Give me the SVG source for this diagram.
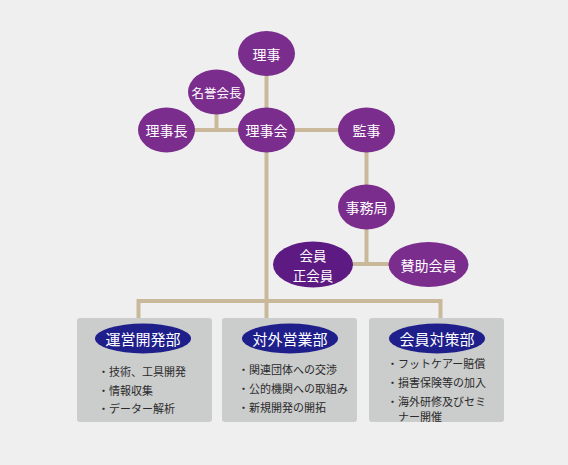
<svg xmlns="http://www.w3.org/2000/svg" width="568" height="465" viewBox="0 0 568 465">
<style>
.ln{stroke:#c9b99a;stroke-width:4;fill:none}
.nd{fill:#7b2d8d}
.nd2{fill:#5c1a82}
.hd{fill:#1f1f8c}
.box{fill:#cbcccc}
text{font-family:"Noto Sans CJK JP","Noto Sans CJK SC",sans-serif}
.t{fill:#ffffff;font-size:14px;text-anchor:middle;dominant-baseline:central}
.th{fill:#ffffff;font-size:15px;text-anchor:middle;dominant-baseline:central}
.li{fill:#2a2a2a;font-size:11px;dominant-baseline:central}
</style>
<rect width="568" height="465" fill="#efefef"/>
<g id="connectors">
<line class="ln" x1="266.5" y1="60" x2="266.5" y2="130"/>
<line class="ln" x1="166" y1="130" x2="366" y2="130"/>
<line class="ln" x1="216.5" y1="100" x2="216.5" y2="130"/>
<line class="ln" x1="366.5" y1="130" x2="366.5" y2="264"/>
<line class="ln" x1="312" y1="264" x2="428" y2="264"/>
<line class="ln" x1="266.5" y1="130" x2="266.5" y2="301"/>
<polyline class="ln" points="138.5,318 138.5,301 440.5,301 440.5,318"/>
<line class="ln" x1="266.5" y1="301" x2="266.5" y2="318"/>
</g>
<g id="riji"><ellipse class="nd" cx="266.5" cy="53.5" rx="28.5" ry="22.5"/><text class="t" x="266.5" y="53.5">理事</text></g>
<g id="meiyo"><ellipse class="nd" cx="216.5" cy="92" rx="28.5" ry="22.5"/><text class="t" x="216.5" y="92" style="font-size:12.5px">名誉会長</text></g>
<g id="rijicho"><ellipse class="nd" cx="166.5" cy="130" rx="28.5" ry="22.5"/><text class="t" x="166.5" y="130">理事長</text></g>
<g id="rijikai"><ellipse class="nd" cx="266.5" cy="130" rx="28.5" ry="22.5"/><text class="t" x="266.5" y="130">理事会</text></g>
<g id="kanji"><ellipse class="nd" cx="366.5" cy="130" rx="28.5" ry="22.5"/><text class="t" x="366.5" y="130">監事</text></g>
<g id="jimukyoku"><ellipse class="nd" cx="366.5" cy="207" rx="28.5" ry="22.5"/><text class="t" x="366.5" y="207">事務局</text></g>
<g id="kaiin"><ellipse class="nd2" cx="313" cy="264.5" rx="40" ry="23"/><text class="t" x="313" y="254.5" style="font-size:13.5px">会員</text><text class="t" x="313" y="274.5" style="font-size:13.5px">正会員</text></g>
<g id="sanjo"><ellipse class="nd" cx="428.5" cy="264.5" rx="40" ry="22.5"/><text class="t" x="428.5" y="264.5">賛助会員</text></g>
<g id="unei">
<rect class="box" x="77" y="318" width="135" height="104" rx="3"/>
<ellipse class="hd" cx="143" cy="338.5" rx="48" ry="15"/>
<text class="th" x="143" y="338.5">運営開発部</text>
<text class="li" x="98" y="371">・技術、工具開発</text>
<text class="li" x="98" y="390">・情報収集</text>
<text class="li" x="98" y="408">・データー解析</text>
</g>
<g id="taigai">
<rect class="box" x="222" y="318" width="135" height="104" rx="3"/>
<ellipse class="hd" cx="290" cy="338.5" rx="48" ry="15"/>
<text class="th" x="290" y="338.5">対外営業部</text>
<text class="li" x="238" y="369">・関連団体への交渉</text>
<text class="li" x="238" y="388">・公的機関への取組み</text>
<text class="li" x="238" y="407">・新規開発の開拓</text>
</g>
<g id="kaiintaisaku">
<rect class="box" x="369" y="318" width="135" height="104" rx="3"/>
<ellipse class="hd" cx="437" cy="338.5" rx="48" ry="15"/>
<text class="th" x="437" y="338.5">会員対策部</text>
<text class="li" x="387" y="363">・フットケアー賠償</text>
<text class="li" x="387" y="382">・損害保険等の加入</text>
<text class="li" x="387" y="401">・海外研修及びセミ</text>
<text class="li" x="398" y="416">ナー開催</text>
</g>
</svg>
